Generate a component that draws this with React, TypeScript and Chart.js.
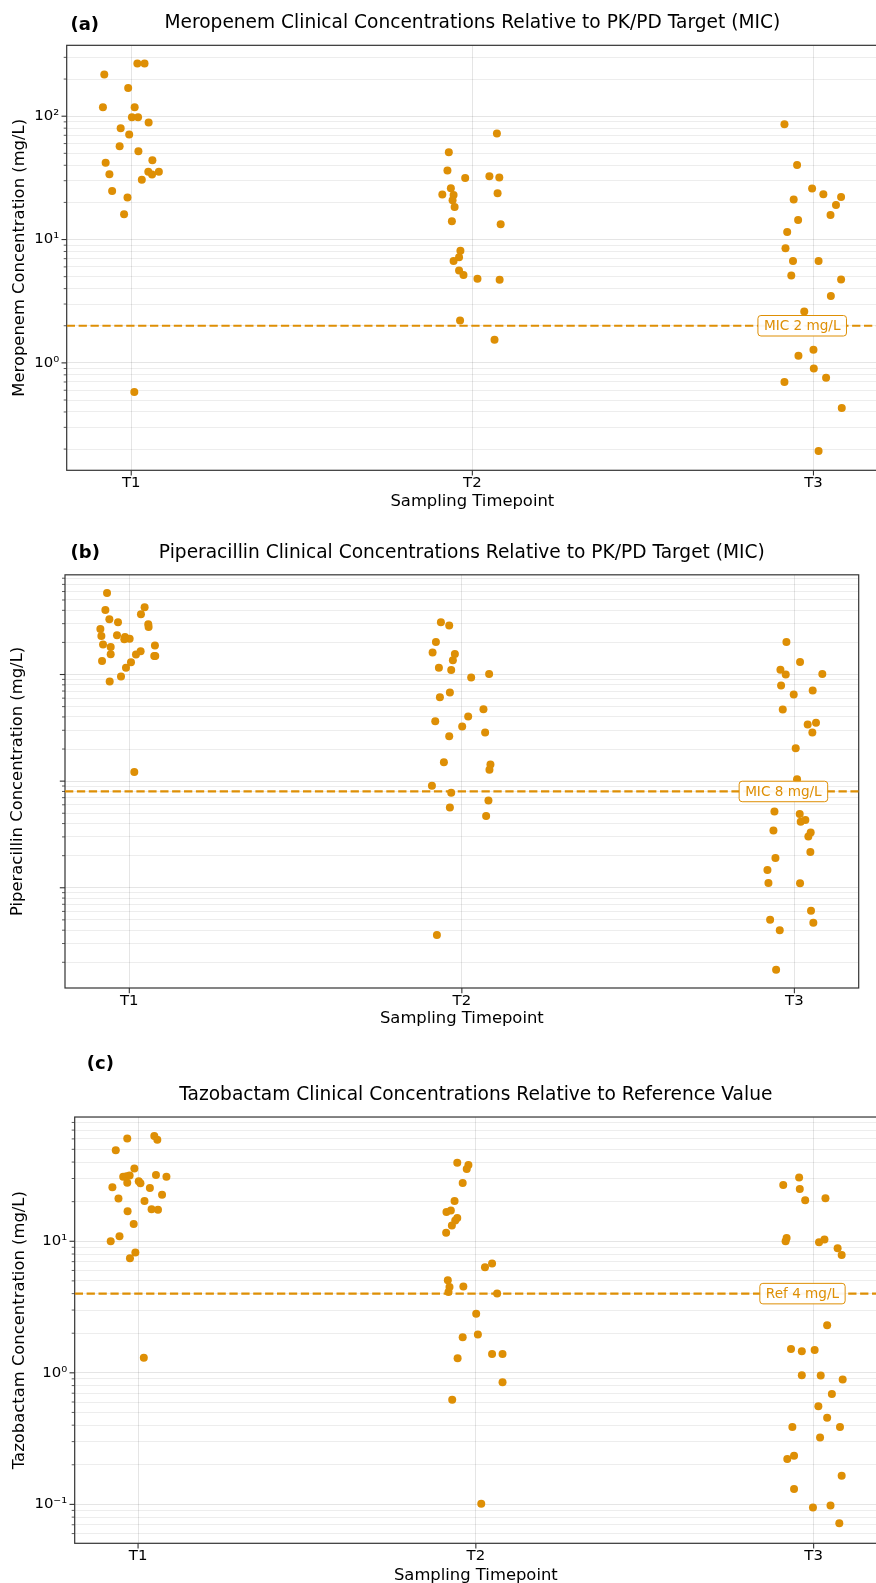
import React, { useEffect, useRef } from 'react';
import { Chart, registerables } from 'chart.js';

Chart.register(...registerables);

// ---------------- data ----------------
const categories = ['T1', 'T2', 'T3'];

// Meropenem (mg/L) and horizontal jitter (category units)
const meroT1 = [267, 267, 218, 169, 118, 118, 98, 98, 89, 80, 71, 57, 52, 44, 42, 35.4, 33.7, 35.4, 33.9, 30.5, 24.8, 21.9, 16, 0.58];
const meroT1Jitter = [0.018, 0.039, -0.079, -0.009, -0.083, 0.01, 0.002, 0.02, 0.051, -0.031, -0.006, -0.034, 0.021, 0.062, -0.075, 0.05, 0.061, 0.081, -0.064, 0.031, -0.056, -0.011, -0.021, 0.009];
const meroT2 = [72.4, 51, 36.3, 31.6, 32.6, 31.9, 26.1, 23.2, 23.0, 20.8, 23.7, 18.4, 14.1, 13.3, 8.1, 7.2, 6.7, 5.6, 5.15, 4.81, 4.72, 2.21, 1.54];
const meroT2Jitter = [0.072, -0.069, -0.073, -0.021, 0.05, 0.079, -0.063, -0.088, -0.055, -0.058, 0.074, -0.052, -0.06, 0.083, -0.035, -0.039, -0.055, -0.039, -0.026, 0.015, 0.08, -0.036, 0.065];
const meroT3 = [86, 40.3, 25.9, 23.3, 21.1, 22.1, 19.1, 15.8, 14.4, 11.5, 8.5, 6.7, 6.7, 5.1, 4.75, 3.48, 2.61, 1.28, 1.14, 0.9, 0.757, 0.7, 0.43, 0.193];
const meroT3Jitter = [-0.085, -0.048, -0.004, 0.029, -0.058, 0.081, 0.066, 0.05, -0.045, -0.077, -0.082, -0.06, 0.015, -0.065, 0.081, 0.051, -0.027, 0.0, -0.044, 0.001, 0.037, -0.085, 0.083, 0.015];

// Piperacillin
const pipT1 = [582, 403, 427, 367, 330, 309, 296, 279, 267, 230, 234, 225, 214, 217, 191, 187, 181, 165, 155, 154, 149, 149, 134, 130, 116, 96, 86, 12.2];
const pipT1Jitter = [-0.067, -0.072, 0.046, 0.035, -0.06, -0.034, 0.057, 0.058, -0.087, -0.084, -0.037, -0.013, -0.015, 0.001, -0.079, 0.077, -0.056, 0.034, -0.056, 0.02, 0.075, 0.078, -0.082, 0.005, -0.01, -0.025, -0.059, 0.015];
const pipT2 = [309, 288, 202, 161, 156, 136, 116, 110, 93.7, 101, 61.3, 67.8, 47.3, 40.4, 36.5, 32.6, 28.6, 26.4, 15.0, 14.3, 12.8, 9.04, 7.77, 6.59, 5.67, 4.7, 0.36];
const pipT2Jitter = [-0.063, -0.038, -0.078, -0.088, -0.021, -0.027, -0.069, -0.032, 0.028, 0.082, -0.066, -0.036, 0.065, 0.019, -0.08, 0.001, 0.07, -0.038, -0.054, 0.086, 0.083, -0.09, -0.032, 0.08, -0.036, 0.073, -0.075];
const pipT3 = [202, 131, 111, 100, 101, 78.9, 70.8, 65, 47, 34, 35.2, 28.6, 20.4, 10.4, 5.2, 4.91, 4.16, 4.31, 3.45, 3.3, 3.03, 2.16, 1.9, 1.47, 1.11, 1.1, 0.61, 0.5, 0.47, 0.4, 0.17];
const pipT3Jitter = [-0.024, 0.017, -0.042, -0.026, 0.084, -0.04, 0.055, -0.002, -0.035, 0.04, 0.065, 0.054, 0.004, 0.008, -0.06, 0.016, 0.019, 0.033, -0.063, 0.049, 0.042, 0.048, -0.057, -0.081, -0.078, 0.017, 0.05, -0.073, 0.057, -0.044, -0.055];

// Tazobactam
const tazoT1 = [60.5, 63.1, 59.2, 49.1, 35.8, 31.0, 31.2, 31.6, 31.9, 31.0, 28.6, 27.6, 27.9, 25.7, 25.4, 22.6, 21.1, 20.2, 17.5, 17.4, 16.9, 13.5, 10.9, 10.0, 8.2, 7.43, 1.3];
const tazoT1Jitter = [-0.032, 0.048, 0.057, -0.066, -0.011, -0.044, -0.034, -0.025, 0.053, 0.084, 0.002, 0.007, -0.032, -0.076, 0.035, 0.071, -0.058, 0.019, 0.04, 0.059, -0.031, -0.013, -0.055, -0.081, -0.008, -0.024, 0.017];
const tazoT2 = [39.6, 38.0, 35.4, 27.7, 20.2, 16.7, 17.1, 15.0, 14.4, 13.2, 11.6, 6.77, 6.35, 5.06, 4.5, 4.53, 4.12, 4.01, 2.81, 1.96, 1.86, 1.29, 1.39, 1.39, 0.849, 0.623, 0.101];
const tazoT2Jitter = [-0.055, -0.022, -0.027, -0.039, -0.063, -0.087, -0.074, -0.055, -0.061, -0.071, -0.088, 0.048, 0.027, -0.083, -0.078, -0.037, -0.081, 0.063, 0.001, 0.006, -0.039, -0.054, 0.048, 0.079, 0.079, -0.07, 0.016];
const tazoT3 = [30.5, 26.8, 25.0, 20.5, 21.2, 10.6, 10.0, 9.83, 10.3, 8.85, 7.87, 2.3, 1.52, 1.46, 1.49, 0.959, 0.954, 0.889, 0.689, 0.558, 0.455, 0.387, 0.388, 0.323, 0.221, 0.234, 0.165, 0.131, 0.0948, 0.0982, 0.0718];
const tazoT3Jitter = [-0.043, -0.09, -0.041, -0.025, 0.035, -0.08, -0.083, 0.016, 0.032, 0.071, 0.083, 0.04, -0.067, -0.035, 0.003, -0.035, 0.021, 0.086, 0.054, 0.014, 0.04, -0.063, 0.078, 0.019, -0.078, -0.058, 0.083, -0.058, -0.002, 0.05, 0.076];

// reference values
const meroMIC = 2;
const pipMIC = 8;
const tazoRef = 4;

// axis limits
const meroYLim = [0.1346, 375.6];
const pipYLim = [0.1148, 861];
const tazoYLim = [0.0506, 88];

// ---------------- styling ----------------
const FONT = "'DejaVu Sans', sans-serif";
const ORANGE = '#DE8F05';
const GRID_MAJOR = 'rgba(0,0,0,0.10)';
const GRID_MINOR = 'rgba(0,0,0,0.07)';
const SPINE = '#333333';

const panels = [
  {
    letter: '(a)', letterLeft: 70.5, letterCY: 23.5,
    top: 0, w: 882, h: 515,
    title: 'Meropenem Clinical Concentrations Relative to PK/PD Target (MIC)',
    yTitle: 'Meropenem Concentration (mg/L)',
    series: [[meroT1, meroT1Jitter], [meroT2, meroT2Jitter], [meroT3, meroT3Jitter]],
    yLim: meroYLim, xMin: -0.1892, xMax: 2.1892,
    ref: meroMIC, refText: 'MIC 2 mg/L', showYLabels: true,
    lay: { yW: 66.7, xH: 44.7, padR: 0.6, titlePT: 12.2, titlePB: 10.8, xTitlePB: 3.16, yTitlePT: 10.36 },
  },
  {
    letter: '(b)', letterLeft: 70.6, letterCY: 552,
    top: 515, w: 876, h: 515,
    title: 'Piperacillin Clinical Concentrations Relative to PK/PD Target (MIC)',
    yTitle: 'Piperacillin Concentration (mg/L)',
    series: [[pipT1, pipT1Jitter], [pipT2, pipT2Jitter], [pipT3, pipT3Jitter]],
    yLim: pipYLim, xMin: -0.1934, xMax: 2.1934,
    ref: pipMIC, refText: 'MIC 8 mg/L', showYLabels: false,
    lay: { yW: 65, xH: 42, padR: 17.3, titlePT: 26.7, titlePB: 10.8, xTitlePB: 1.16, yTitlePT: 8.36 },
  },
  {
    letter: '(c)', letterLeft: 86.8, letterCY: 1062.7,
    top: 1030, w: 881, h: 560,
    title: 'Tazobactam Clinical Concentrations Relative to Reference Value',
    yTitle: 'Tazobactam Concentration (mg/L)',
    series: [[tazoT1, tazoT1Jitter], [tazoT2, tazoT2Jitter], [tazoT3, tazoT3Jitter]],
    yLim: tazoYLim, xMin: -0.1876, xMax: 2.1876,
    ref: tazoRef, refText: 'Ref 4 mg/L', showYLabels: true,
    lay: { yW: 74.7, xH: 46.7, padR: 1.1, titlePT: 54.2, titlePB: 10.5, xTitlePB: 4.66, yTitlePT: 10.36 },
  },
];

const SUP: Record<string, string> = { '-': '\u207B', '0': '\u2070', '1': '\u00B9', '2': '\u00B2', '3': '\u00B3' };
const supStr = (n: number) => String(n).split('').map((c) => SUP[c] || c).join('');

function logTicks(min: number, max: number) {
  const out: { value: number; major: boolean }[] = [];
  const e0 = Math.floor(Math.log10(min));
  const e1 = Math.ceil(Math.log10(max));
  for (let e = e0; e <= e1; e++) {
    for (let k = 1; k <= 9; k++) {
      const v = k * Math.pow(10, e);
      if (v >= min && v <= max) out.push({ value: v, major: k === 1 });
    }
  }
  return out;
}

const framePlugin = {
  id: 'frame',
  beforeDatasetsDraw(chart: any) {
    const { ctx, chartArea, scales } = chart;
    const { left, right, top, bottom } = chartArea;
    ctx.save();
    ctx.strokeStyle = SPINE;
    scales.y.ticks.forEach((t: any) => {
      const py = scales.y.getPixelForValue(t.value);
      const len = t.major ? 5.2 : 3;
      ctx.lineWidth = t.major ? 1.1 : 0.8;
      ctx.beginPath();
      ctx.moveTo(left - len, py);
      ctx.lineTo(left, py);
      ctx.stroke();
    });
    scales.x.ticks.forEach((t: any) => {
      const px = scales.x.getPixelForValue(t.value);
      ctx.lineWidth = 1.1;
      ctx.beginPath();
      ctx.moveTo(px, bottom);
      ctx.lineTo(px, bottom + 5.2);
      ctx.stroke();
    });
    ctx.lineWidth = 1.2;
    ctx.strokeRect(left, top, right - left, bottom - top);
    ctx.restore();
  },
};

const refBoxPlugin = {
  id: 'refBox',
  afterDatasetsDraw(chart: any, _args: any, opts: any) {
    if (!opts || !opts.text) return;
    const { ctx, scales } = chart;
    const cx = scales.x.getPixelForValue(opts.x);
    const cy = scales.y.getPixelForValue(opts.value);
    ctx.save();
    ctx.font = `13.6px ${FONT}`;
    const tw = ctx.measureText(opts.text).width;
    const w = tw + 12;
    const h = 20.5;
    ctx.beginPath();
    if (ctx.roundRect) ctx.roundRect(cx - w / 2, cy - h / 2, w, h, 3);
    else ctx.rect(cx - w / 2, cy - h / 2, w, h);
    ctx.fillStyle = 'rgba(255,255,255,0.92)';
    ctx.fill();
    ctx.strokeStyle = ORANGE;
    ctx.lineWidth = 1;
    ctx.stroke();
    ctx.fillStyle = ORANGE;
    ctx.textAlign = 'center';
    ctx.textBaseline = 'middle';
    ctx.fillText(opts.text, cx, cy + 0.5);
    ctx.restore();
  },
};

function buildConfig(p: any): any {
  const pts = p.series
    .map(([vals, jit]: [number[], number[]], idx: number) => vals.map((v, i) => ({ x: idx + jit[i], y: v })))
    .flat();
  const yTicks = logTicks(p.yLim[0], p.yLim[1]);
  return {
    type: 'scatter',
    data: {
      datasets: [
        {
          type: 'scatter',
          data: pts,
          backgroundColor: ORANGE,
          borderWidth: 0,
          pointRadius: 4,
          order: 0,
        },
        {
          type: 'line',
          data: [
            { x: p.xMin, y: p.ref },
            { x: p.xMax, y: p.ref },
          ],
          borderColor: ORANGE,
          borderWidth: 2.2,
          borderDash: [8.3, 3.6],
          pointRadius: 0,
          fill: false,
          order: 1,
        },
      ],
    },
    options: {
      responsive: false,
      animation: false,
      devicePixelRatio: 1,
      events: [],
      layout: { padding: { left: 0, right: p.lay.padR, top: 0, bottom: 0 } },
      plugins: {
        legend: { display: false },
        tooltip: { enabled: false },
        title: {
          display: true,
          text: p.title,
          fullSize: false,
          color: '#000',
          font: { family: FONT, size: 18.6, weight: 'normal', lineHeight: 1.2 },
          padding: { top: p.lay.titlePT, bottom: p.lay.titlePB },
        },
        refBox: { text: p.refText, value: p.ref, x: 1.967 },
      },
      scales: {
        x: {
          type: 'linear',
          position: 'bottom',
          min: p.xMin,
          max: p.xMax,
          afterBuildTicks: (s: any) => {
            s.ticks = categories.map((_, i) => ({ value: i, major: true }));
          },
          afterFit: (s: any) => {
            s.height = p.lay.xH;
          },
          ticks: {
            autoSkip: false,
            maxRotation: 0,
            padding: 4,
            color: '#000',
            font: { family: FONT, size: 14.9 },
            callback: (_v: any, i: number) => categories[i] ?? '',
          },
          grid: { color: GRID_MAJOR, lineWidth: 1, drawTicks: false },
          border: { display: false },
          title: {
            display: true,
            text: 'Sampling Timepoint',
            color: '#000',
            font: { family: FONT, size: 16.4, lineHeight: 1.2 },
            padding: { top: 0, bottom: p.lay.xTitlePB },
          },
        },
        y: {
          type: 'logarithmic',
          position: 'left',
          min: p.yLim[0],
          max: p.yLim[1],
          afterBuildTicks: (s: any) => {
            s.ticks = yTicks.map((t) => ({ ...t }));
          },
          afterFit: (s: any) => {
            s.width = p.lay.yW;
          },
          ticks: {
            autoSkip: false,
            padding: 7.5,
            color: '#000',
            font: { family: FONT, size: 14.9 },
            callback: (v: number, i: number, ticks: any[]) => {
              if (!p.showYLabels) return '';
              const t = ticks[i];
              if (!t || !t.major) return '';
              return '10' + supStr(Math.round(Math.log10(v)));
            },
          },
          grid: {
            color: (c: any) => (c.tick && c.tick.major ? GRID_MAJOR : GRID_MINOR),
            lineWidth: 1,
            drawTicks: false,
          },
          border: { display: false },
          title: {
            display: true,
            text: p.yTitle,
            color: '#000',
            font: { family: FONT, size: 16.4, lineHeight: 1.2 },
            padding: { top: p.lay.yTitlePT, bottom: 0 },
          },
        },
      },
    },
    plugins: [framePlugin, refBoxPlugin],
  };
}

function Panel({ p }: { p: any }) {
  const ref = useRef<HTMLCanvasElement>(null);
  useEffect(() => {
    if (!ref.current) return;
    const chart = new Chart(ref.current, buildConfig(p));
    return () => chart.destroy();
  }, [p]);
  return (
    <>
      <canvas
        ref={ref}
        width={p.w}
        height={p.h}
        style={{ position: 'absolute', left: 0, top: p.top, width: p.w, height: p.h }}
      />
      <div
        style={{
          position: 'absolute',
          left: p.letterLeft,
          top: p.letterCY - 11,
          height: 22,
          lineHeight: '22px',
          fontFamily: FONT,
          fontWeight: 'bold',
          fontSize: 18,
          color: '#000',
          whiteSpace: 'nowrap',
        }}
      >
        {p.letter}
      </div>
    </>
  );
}

export default function App() {
  return (
    <div
      style={{
        position: 'absolute',
        left: 0,
        top: 0,
        width: 876,
        height: 1583,
        overflow: 'hidden',
        background: '#fff',
      }}
    >
      {panels.map((p, i) => (
        <Panel key={i} p={p} />
      ))}
    </div>
  );
}
